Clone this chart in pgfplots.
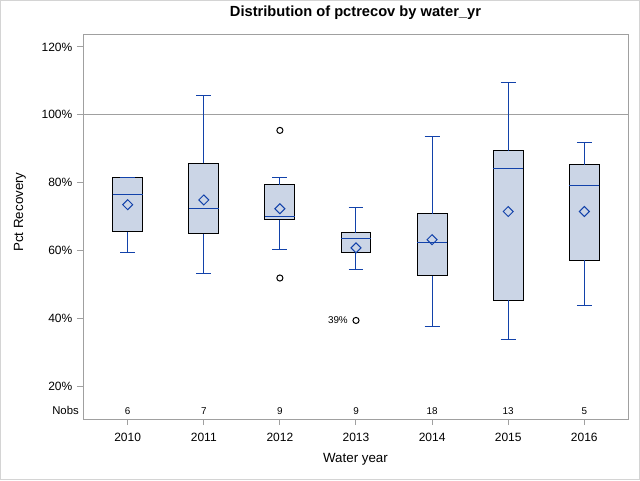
\documentclass[border=0pt]{standalone}
\usepackage{fontspec}
\setmainfont{Liberation Sans}
\usepackage{pgfplots}
\pgfplotsset{compat=1.18}
\usepgfplotslibrary{statistics}

\definecolor{boxfill}{RGB}{203,213,230}
\definecolor{sasblue}{RGB}{18,66,170}
\definecolor{framegray}{RGB}{160,160,160}
\definecolor{bordergray}{RGB}{212,212,212}

% boxes only: whiskers are set to the quartiles, blue whiskers and medians are drawn on top
\pgfplotsset{
  sasbox/.style={
    draw=black, fill=boxfill, line width=0.75pt,
    boxplot/draw direction=y,
    boxplot/box extend=0.394,
    boxplot/whisker extend=0.197,
  },
}

\begin{document}
\begin{tikzpicture}
\useasboundingbox (0,0) rectangle (480pt,360pt);
\draw[bordergray, line width=0.75pt] (0.375pt,0.375pt) rectangle (479.625pt,359.625pt);
\begin{axis}[
  at={(62.25pt,45.75pt)}, anchor=south west,
  width=408.75pt, height=288.75pt, scale only axis,
  xmin=-0.587, xmax=6.574, ymin=10.36, ymax=123.8,
  clip=false, unbounded coords=jump,
  axis line style={framegray, line width=0.75pt},
  tick align=outside, tick pos=left, major tick length=4.5pt,
  tick style={framegray, line width=0.75pt},
  xtick={0,1,2,3,4,5,6},
  xticklabels={2010,2011,2012,2013,2014,2015,2016},
  ytick={20,40,60,80,100,120},
  yticklabels={20\%,40\%,60\%,80\%,100\%,120\%},
  tick label style={font=\fontsize{9}{11}\selectfont},
  xticklabel style={yshift=-2.5pt},
  title={Distribution of pctrecov by water\_yr},
  title style={font=\bfseries\fontsize{11}{13}\selectfont,
    at={(axis description cs:0.5,1.0234)}, anchor=base, yshift=0pt},
  xlabel={Water year},
  xlabel style={font=\fontsize{10}{12}\selectfont,
    at={(axis description cs:0.5,-0.1135)}, anchor=base},
  ylabel={Pct Recovery},
  ylabel style={font=\fontsize{10}{12}\selectfont,
    at={(axis description cs:-0.110,0.5377)}, anchor=base},
]

% reference line
\addplot[framegray, line width=0.75pt] coordinates {(-0.587,100) (6.574,100)};

% boxes (lower quartile, median, upper quartile)
\addplot[sasbox, boxplot prepared={draw position=0,
  lower whisker=65.6, lower quartile=65.6, median=76.4,
  upper quartile=81.4, upper whisker=81.4}] coordinates {};
\addplot[sasbox, boxplot prepared={draw position=1,
  lower whisker=64.9, lower quartile=64.9, median=72.3,
  upper quartile=85.7, upper whisker=85.7}] coordinates {};
\addplot[sasbox, boxplot prepared={draw position=2,
  lower whisker=69.0, lower quartile=69.0, median=69.9,
  upper quartile=79.4, upper whisker=79.4}] coordinates {};
\addplot[sasbox, boxplot prepared={draw position=3,
  lower whisker=59.4, lower quartile=59.4, median=63.4,
  upper quartile=65.2, upper whisker=65.2}] coordinates {};
\addplot[sasbox, boxplot prepared={draw position=4,
  lower whisker=52.5, lower quartile=52.5, median=62.3,
  upper quartile=70.8, upper whisker=70.8}] coordinates {};
\addplot[sasbox, boxplot prepared={draw position=5,
  lower whisker=45.4, lower quartile=45.4, median=84.1,
  upper quartile=89.4, upper whisker=89.4}] coordinates {};
\addplot[sasbox, boxplot prepared={draw position=6,
  lower whisker=57.2, lower quartile=57.2, median=79.1,
  upper quartile=85.3, upper whisker=85.3}] coordinates {};

% whisker stems
\addplot[sasblue, line width=0.75pt] coordinates {
  (0,59.3) (0,65.6) (nan,nan) (0,81.4) (0,81.6) (nan,nan)
  (1,53.1) (1,64.9) (nan,nan) (1,85.7) (1,105.6) (nan,nan)
  (2,60.2) (2,69.0) (nan,nan) (2,79.4) (2,81.6) (nan,nan)
  (3,54.3) (3,59.4) (nan,nan) (3,65.2) (3,72.6) (nan,nan)
  (4,37.5) (4,52.5) (nan,nan) (4,70.8) (4,93.5) (nan,nan)
  (5,33.7) (5,45.4) (nan,nan) (5,89.4) (5,109.4) (nan,nan)
  (6,43.7) (6,57.2) (nan,nan) (6,85.3) (6,91.7)};
% whisker caps
\addplot[sasblue, line width=0.75pt] coordinates {
  (-0.0985,59.3) (0.0985,59.3) (nan,nan) (-0.0985,81.6) (0.0985,81.6) (nan,nan)
  (0.9015,53.1) (1.0985,53.1) (nan,nan) (0.9015,105.6) (1.0985,105.6) (nan,nan)
  (1.9015,60.2) (2.0985,60.2) (nan,nan) (1.9015,81.6) (2.0985,81.6) (nan,nan)
  (2.9015,54.3) (3.0985,54.3) (nan,nan) (2.9015,72.6) (3.0985,72.6) (nan,nan)
  (3.9015,37.5) (4.0985,37.5) (nan,nan) (3.9015,93.5) (4.0985,93.5) (nan,nan)
  (4.9015,33.7) (5.0985,33.7) (nan,nan) (4.9015,109.4) (5.0985,109.4) (nan,nan)
  (5.9015,43.7) (6.0985,43.7) (nan,nan) (5.9015,91.7) (6.0985,91.7)};
% medians
\addplot[sasblue, line width=0.75pt] coordinates {
  (-0.197,76.4) (0.197,76.4) (nan,nan)
  (0.803,72.3) (1.197,72.3) (nan,nan)
  (1.803,69.9) (2.197,69.9) (nan,nan)
  (2.803,63.4) (3.197,63.4) (nan,nan)
  (3.803,62.3) (4.197,62.3) (nan,nan)
  (4.803,84.1) (5.197,84.1) (nan,nan)
  (5.803,79.1) (6.197,79.1)};

% means
\addplot[only marks, mark=square, mark size=2.65pt,
  mark options={rotate=45, draw=sasblue, fill=none, line width=0.75pt}]
  coordinates {(0,73.5) (1,74.9) (2,72.3) (3,60.8) (4,63.2) (5,71.5) (6,71.5)};

% outliers
\addplot[only marks, mark=o, mark size=2.3pt, black, line width=0.75pt]
  coordinates {(2,95.4) (2,51.9)};
\addplot[only marks, mark=o, mark size=2.3pt, black, line width=0.75pt,
  nodes near coords={39\%},
  nodes near coords style={anchor=base east, inner sep=0pt, xshift=-5.8pt, yshift=-1.95pt,
    font=\fontsize{7.4}{8}\selectfont}]
  coordinates {(3,39.4)};

% Nobs
\addplot[draw=none, mark=none, point meta=explicit symbolic, nodes near coords,
  nodes near coords style={anchor=base, inner sep=0pt, font=\fontsize{7.4}{8}\selectfont}]
  coordinates {(0,11.54)[6] (1,11.54)[7] (2,11.54)[9] (3,11.54)[9]
               (4,11.54)[18] (5,11.54)[13] (6,11.54)[5]};
\node[anchor=base east, inner sep=0pt, xshift=-3pt, font=\fontsize{8.5}{10}\selectfont]
  at (axis cs:-0.587,11.54) {Nobs};

\end{axis}
\end{tikzpicture}
\end{document}
